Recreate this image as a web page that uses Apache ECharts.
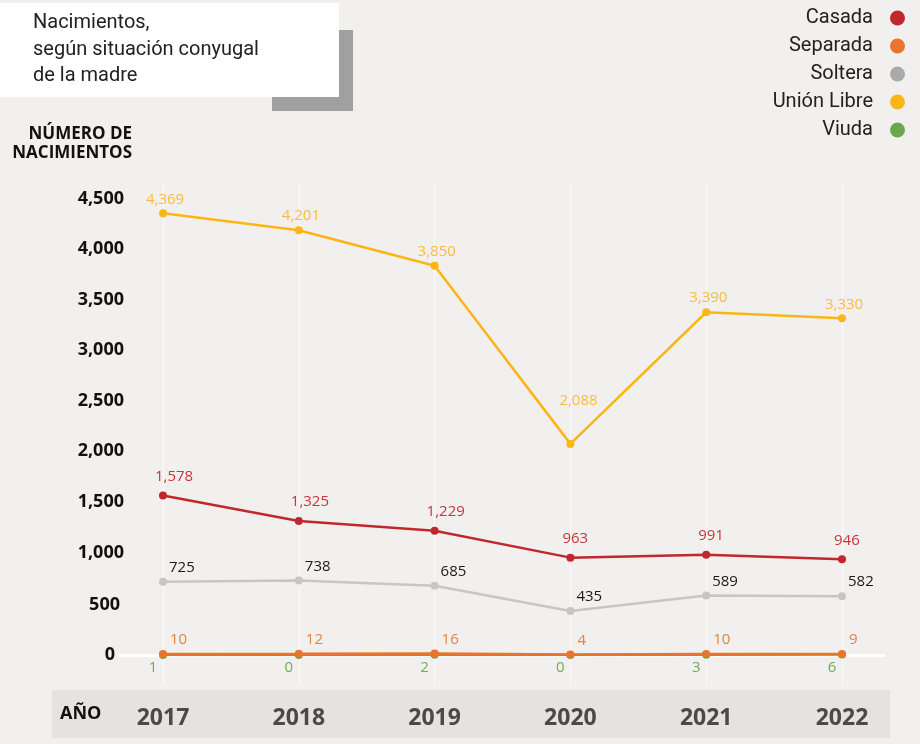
<!DOCTYPE html>
<html>
<head>
<meta charset="utf-8">
<script src="https://cdn.jsdelivr.net/npm/echarts@6/dist/echarts.min.js"></script>
<style>
html,body{margin:0;padding:0;background:#f2f0ee;}
#chart{width:920px;height:744px;}
</style>
</head>
<body>
<div id="chart"></div>
<script>
const years = ['2017', '2018', '2019', '2020', '2021', '2022'];
const casada = [1578, 1325, 1229, 963, 991, 946];
const separada = [10, 12, 16, 4, 10, 9];
const soltera = [725, 738, 685, 435, 589, 582];
const unionLibre = [4369, 4201, 3850, 2088, 3390, 3330];
const viuda = [1, 0, 2, 0, 3, 6];
const seriesNames = ['Casada', 'Separada', 'Soltera', 'Unión Libre', 'Viuda'];
const yMin = 0, yMax = 4500, yStep = 500;

const fmt = v => Number(v).toLocaleString('en-US');

const chart = echarts.init(document.getElementById('chart'), null, {renderer: 'canvas'});

function mk(name, data, color, labelColor, offset, align, z) {
  return {
    name: name, type: 'line', xAxisIndex: 0, yAxisIndex: 0,
    data: data, symbol: 'circle', symbolSize: 8, z: z,
    color: color,
    lineStyle: {width: 2.5, color: color},
    itemStyle: {color: color},
    label: {
      show: true, position: 'top', distance: 0, align: align, verticalAlign: 'middle',
      offset: offset, color: labelColor, fontFamily: 'Open Sans', fontSize: 15,
      formatter: p => fmt(p.value)
    },
    emphasis: {disabled: true},
    animation: false
  };
}

const unionData = unionLibre.map((v, i) => i === 3 ? {value: v, label: {offset: [-11, -39]}} : v);

const option = {
  backgroundColor: '#f2f0ee',
  animation: false,
  graphic: [
    {type: 'rect', z: -1, shape: {x: 272, y: 30, width: 81, height: 81}, style: {fill: '#a0a0a0'}},
    {type: 'rect', z: -1, shape: {x: 0, y: 3, width: 339, height: 94}, style: {fill: '#ffffff'}},
    {type: 'text', z: 1, x: 33, y: 10, style: {text: 'Nacimientos,\nsegún situación conyugal\nde la madre', fill: '#222', font: '20px Roboto', lineHeight: 26.5}},
    {type: 'text', z: 1, x: 132, y: 125, style: {text: 'NÚMERO DE\nNACIMIENTOS', fill: '#111', font: 'bold 17px "Open Sans"', lineHeight: 18.5, align: 'right'}},
    {type: 'rect', z: -1, shape: {x: 52, y: 690, width: 838, height: 48}, style: {fill: '#e5e3e1'}},
    {type: 'text', z: 1, x: 60, y: 714, style: {text: 'AÑO', fill: '#111', font: 'bold 18px "Open Sans"', verticalAlign: 'middle'}}
  ],
  legend: {
    orient: 'vertical', right: 10, top: 3, align: 'right', icon: 'circle',
    itemWidth: 15, itemHeight: 15, itemGap: 8,
    selectedMode: false,
    textStyle: {fontFamily: 'Roboto', fontSize: 20, color: '#222', lineHeight: 15, padding: [0, 12, 0, 0]},
    data: [
      {name: 'Casada'},
      {name: 'Separada'},
      {name: 'Soltera', itemStyle: {color: '#aaaaaa'}},
      {name: 'Unión Libre'},
      {name: 'Viuda'}
    ]
  },
  grid: [
    {left: 163, right: 78, top: 200, bottom: 89},
    {left: 163, right: 78, top: 183, bottom: 59},
    {left: 120, right: 36, top: 600, bottom: 89}
  ],
  xAxis: [
    {gridIndex: 0, type: 'category', data: years, boundaryGap: false, show: false},
    {gridIndex: 1, type: 'category', data: years, boundaryGap: false,
      axisLine: {show: false}, axisTick: {show: false},
      splitLine: {show: true, lineStyle: {color: '#fbfbfb', width: 1}},
      axisLabel: {margin: 22, color: '#4a4a4a', fontFamily: 'Open Sans', fontWeight: 'bold', fontSize: 23}},
    {gridIndex: 2, type: 'value', min: 0, max: 1,
      axisLine: {show: true, lineStyle: {color: '#ffffff', width: 3}},
      axisTick: {show: false}, axisLabel: {show: false}, splitLine: {show: false}}
  ],
  yAxis: [
    {gridIndex: 0, type: 'value', min: yMin, max: yMax, interval: yStep,
      axisLine: {show: false}, axisTick: {show: false}, splitLine: {show: false},
      axisLabel: {margin: 39, color: '#111', fontFamily: 'Open Sans', fontWeight: 'bold', fontSize: 18,
        formatter: v => v === 0 ? '{z|0}' : (v === 500 ? '{f|500}' : '{n|' + fmt(v) + '}'),
        rich: {
          z: {padding: [0, 9, 0, 0], fontWeight: 'bold', fontSize: 18, fontFamily: 'Open Sans', color: '#111'},
          f: {padding: [0, 4, 0, 0], fontWeight: 'bold', fontSize: 18, fontFamily: 'Open Sans', color: '#111'},
          n: {padding: [0, 0, 3, 0], fontWeight: 'bold', fontSize: 18, fontFamily: 'Open Sans', color: '#111'}
        }}},
    {gridIndex: 1, type: 'value', show: false},
    {gridIndex: 2, type: 'value', show: false}
  ],
  series: [
    mk('Viuda', viuda, '#6aa84f', '#6ab04c', [-10, 17], 'center', 2),
    mk('Separada', separada, '#e8742e', '#e8823f', [7, -10], 'left', 3),
    mk('Soltera', soltera, '#c8c6c4', '#1a1a1a', [6, -10], 'left', 4),
    mk('Casada', casada, '#c0282d', '#c8343a', [-8, -15], 'left', 5),
    mk('Unión Libre', unionData, '#fbb615', '#f9bc3c', [-17, -10], 'left', 6)
  ]
};
chart.setOption(option);
</script>
</body>
</html>
